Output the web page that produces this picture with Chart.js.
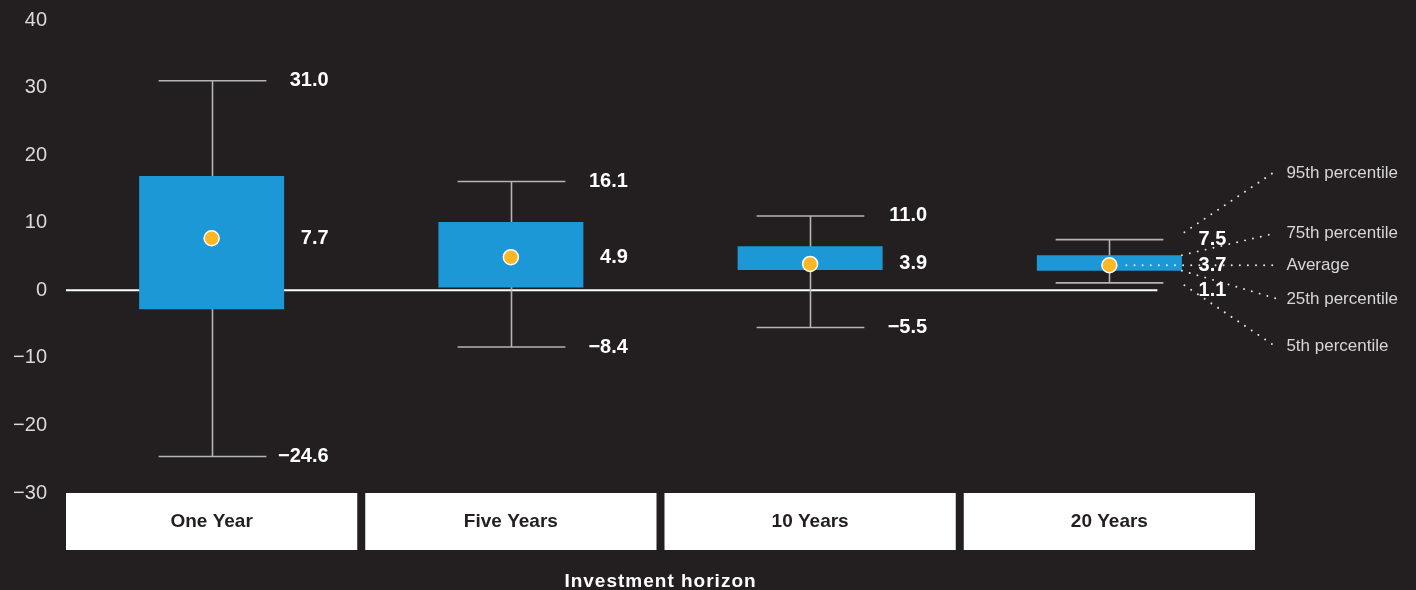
<!DOCTYPE html>
<html>
<head>
<meta charset="utf-8">
<script src="https://cdn.jsdelivr.net/npm/chart.js@4"></script>
<style>
  html, body { margin: 0; padding: 0; background: #231f20; }
  #wrap { width: 1416px; height: 590px; position: relative; }
</style>
</head>
<body>
<div id="wrap"><canvas id="chart"></canvas></div>
<script>
// data (annual returns, %)
const categories = ['One Year', 'Five Years', '10 Years', '20 Years'];
const p5 = [-24.6, -8.4, -5.5, 1.1];
const p25 = [-2.8, 0.4, 3.0, 2.9];
const p75 = [16.9, 10.1, 6.5, 5.2];
const p95 = [31.0, 16.1, 11.0, 7.5];
const average = [7.7, 4.9, 3.9, 3.7];
const yMin = -30, yMax = 40, yStep = 10;
const keyLabels = ['95th percentile', '75th percentile', 'Average', '25th percentile', '5th percentile'];
const axisTitle = 'Investment horizon';

const BG = '#231f20';
const BLUE = '#1d98d6';
const GOLD = '#fbb824';
const FONT = '"Liberation Sans", Arial, sans-serif';

function fmt(v) {
    var s = Math.abs(v).toFixed(1);
    return v < 0 ? '\u2212' + s : s;
}

// dotted leader line
function dots(ctx, x1, y1, x2, y2) {
    ctx.save();
    ctx.strokeStyle = '#e6e6e6';
    ctx.lineWidth = 1.9;
    ctx.lineCap = 'round';
    ctx.setLineDash([0.1, 8]);
    ctx.beginPath();
    ctx.moveTo(x1, y1);
    ctx.lineTo(x2, y2);
    ctx.stroke();
    ctx.restore();
}

const boxPlugin = {
    id: 'boxPlugin',
    beforeDraw(chart) {
        const ctx = chart.ctx;
        ctx.save();
        ctx.fillStyle = BG;
        ctx.fillRect(0, 0, chart.width, chart.height);
        ctx.restore();
    },
    beforeDatasetsDraw(chart) {
        const ctx = chart.ctx;
        const x = chart.scales.x, y = chart.scales.y;
        const area = chart.chartArea;
        const band = x.getPixelForValue(1) - x.getPixelForValue(0);

        // zero line
        ctx.save();
        ctx.strokeStyle = '#ffffff';
        ctx.lineWidth = 2;
        ctx.beginPath();
        ctx.moveTo(area.left + 4, y.getPixelForValue(0));
        ctx.lineTo(x.getPixelForValue(categories.length - 1) + 48, y.getPixelForValue(0));
        ctx.stroke();

        // whiskers
        ctx.strokeStyle = '#b4b4b4';
        ctx.lineWidth = 1.6;
        categories.forEach(function(c, i) {
            const cx = Math.round(x.getPixelForValue(i)) + 0.5;
            const half = band * 0.18;
            const top = y.getPixelForValue(p95[i]);
            const bot = y.getPixelForValue(p5[i]);
            ctx.beginPath();
            ctx.moveTo(cx, top);
            ctx.lineTo(cx, bot);
            ctx.moveTo(cx - half, top);
            ctx.lineTo(cx + half, top);
            ctx.moveTo(cx - half, bot);
            ctx.lineTo(cx + half, bot);
            ctx.stroke();
        });
        ctx.restore();
    },
    afterDatasetsDraw(chart) {
        const ctx = chart.ctx;
        const x = chart.scales.x, y = chart.scales.y;
        const area = chart.chartArea;
        const band = x.getPixelForValue(1) - x.getPixelForValue(0);
        const last = categories.length - 1;

        // key for the last box
        const lx = x.getPixelForValue(last);
        const my = y.getPixelForValue(average[last]);
        const boxRight = lx + band * 0.2423;
        const endX = lx + 166;
        dots(ctx, lx + 17, my, endX, my);
        dots(ctx, lx + 75, my - 33, endX, my - 94);
        dots(ctx, boxRight, y.getPixelForValue(p75[last]), endX, my - 32);
        dots(ctx, boxRight, y.getPixelForValue(p25[last]), endX, my + 33);
        dots(ctx, lx + 75, my + 20, endX, my + 81);

        ctx.save();
        ctx.font = '17px ' + FONT;
        ctx.fillStyle = '#d6d6d6';
        ctx.textAlign = 'left';
        ctx.textBaseline = 'middle';
        const keyY = [my - 92, my - 32, my, my + 34, my + 81];
        keyLabels.forEach(function(t, k) {
            ctx.fillText(t, endX + 11, keyY[k]);
        });

        // value labels
        ctx.font = 'bold 20px ' + FONT;
        ctx.fillStyle = '#ffffff';
        ctx.textAlign = 'right';
        categories.forEach(function(c, i) {
            const rx = x.getPixelForValue(i) + 117;
            const m = y.getPixelForValue(average[i]);
            if (i === last) {
                ctx.fillText(fmt(p95[i]), rx, m - 26);
                ctx.fillText(fmt(average[i]), rx, m);
                ctx.fillText(fmt(p5[i]), rx, m + 25);
            } else {
                ctx.fillText(fmt(p95[i]), rx, y.getPixelForValue(p95[i]));
                ctx.fillText(fmt(average[i]), rx, m);
                ctx.fillText(fmt(p5[i]), rx, y.getPixelForValue(p5[i]));
            }
        });

        // category boxes under the plot
        ctx.textAlign = 'center';
        ctx.font = 'bold 19px ' + FONT;
        categories.forEach(function(c, i) {
            const cx = x.getPixelForValue(i);
            ctx.fillStyle = '#ffffff';
            ctx.fillRect(cx - band / 2 + 4, area.bottom, band - 8, 57);
            ctx.fillStyle = BG;
            ctx.fillText(c, cx, area.bottom + 29);
        });

        // axis title
        ctx.fillStyle = '#ffffff';
        ctx.font = 'bold 19px ' + FONT;
        ctx.letterSpacing = '1px';
        ctx.fillText(axisTitle, (area.left + area.right) / 2, area.bottom + 89);
        ctx.restore();
    }
};

const ctx = document.getElementById('chart').getContext('2d');
new Chart(ctx, {
    type: 'bar',
    data: {
        labels: categories,
        datasets: [{
            type: 'line',
            label: 'Average',
            data: average,
            showLine: false,
            pointRadius: 7.5,
            pointBorderWidth: 1.5,
            pointBorderColor: '#ffffff',
            pointBackgroundColor: GOLD,
            order: 1
        }, {
            label: '25th-75th percentile',
            data: p25.map(function(v, i) { return [v, p75[i]]; }),
            backgroundColor: BLUE,
            borderWidth: 0,
            borderSkipped: false,
            barPercentage: 0.4845,
            categoryPercentage: 1,
            order: 2
        }]
    },
    options: {
        responsive: true,
        maintainAspectRatio: false,
        animation: false,
        layout: { padding: { top: 20, right: 157, bottom: 97, left: 0 } },
        plugins: {
            legend: { display: false },
            tooltip: { enabled: false }
        },
        scales: {
            x: { display: false, offset: true },
            y: {
                min: yMin,
                max: yMax,
                afterFit: function(scale) {
                    scale.width = 62;
                    // layout padding already leaves room for the end labels
                    scale.paddingTop = 0;
                    scale.paddingBottom = 0;
                },
                grid: { display: false, drawTicks: false },
                border: { display: false },
                ticks: {
                    stepSize: yStep,
                    padding: 15,
                    color: '#d9d9d9',
                    font: { family: FONT, size: 20 },
                    callback: function(v) { return v < 0 ? '\u2212' + Math.abs(v) : String(v); }
                }
            }
        }
    },
    plugins: [boxPlugin]
});
</script>
</body>
</html>
